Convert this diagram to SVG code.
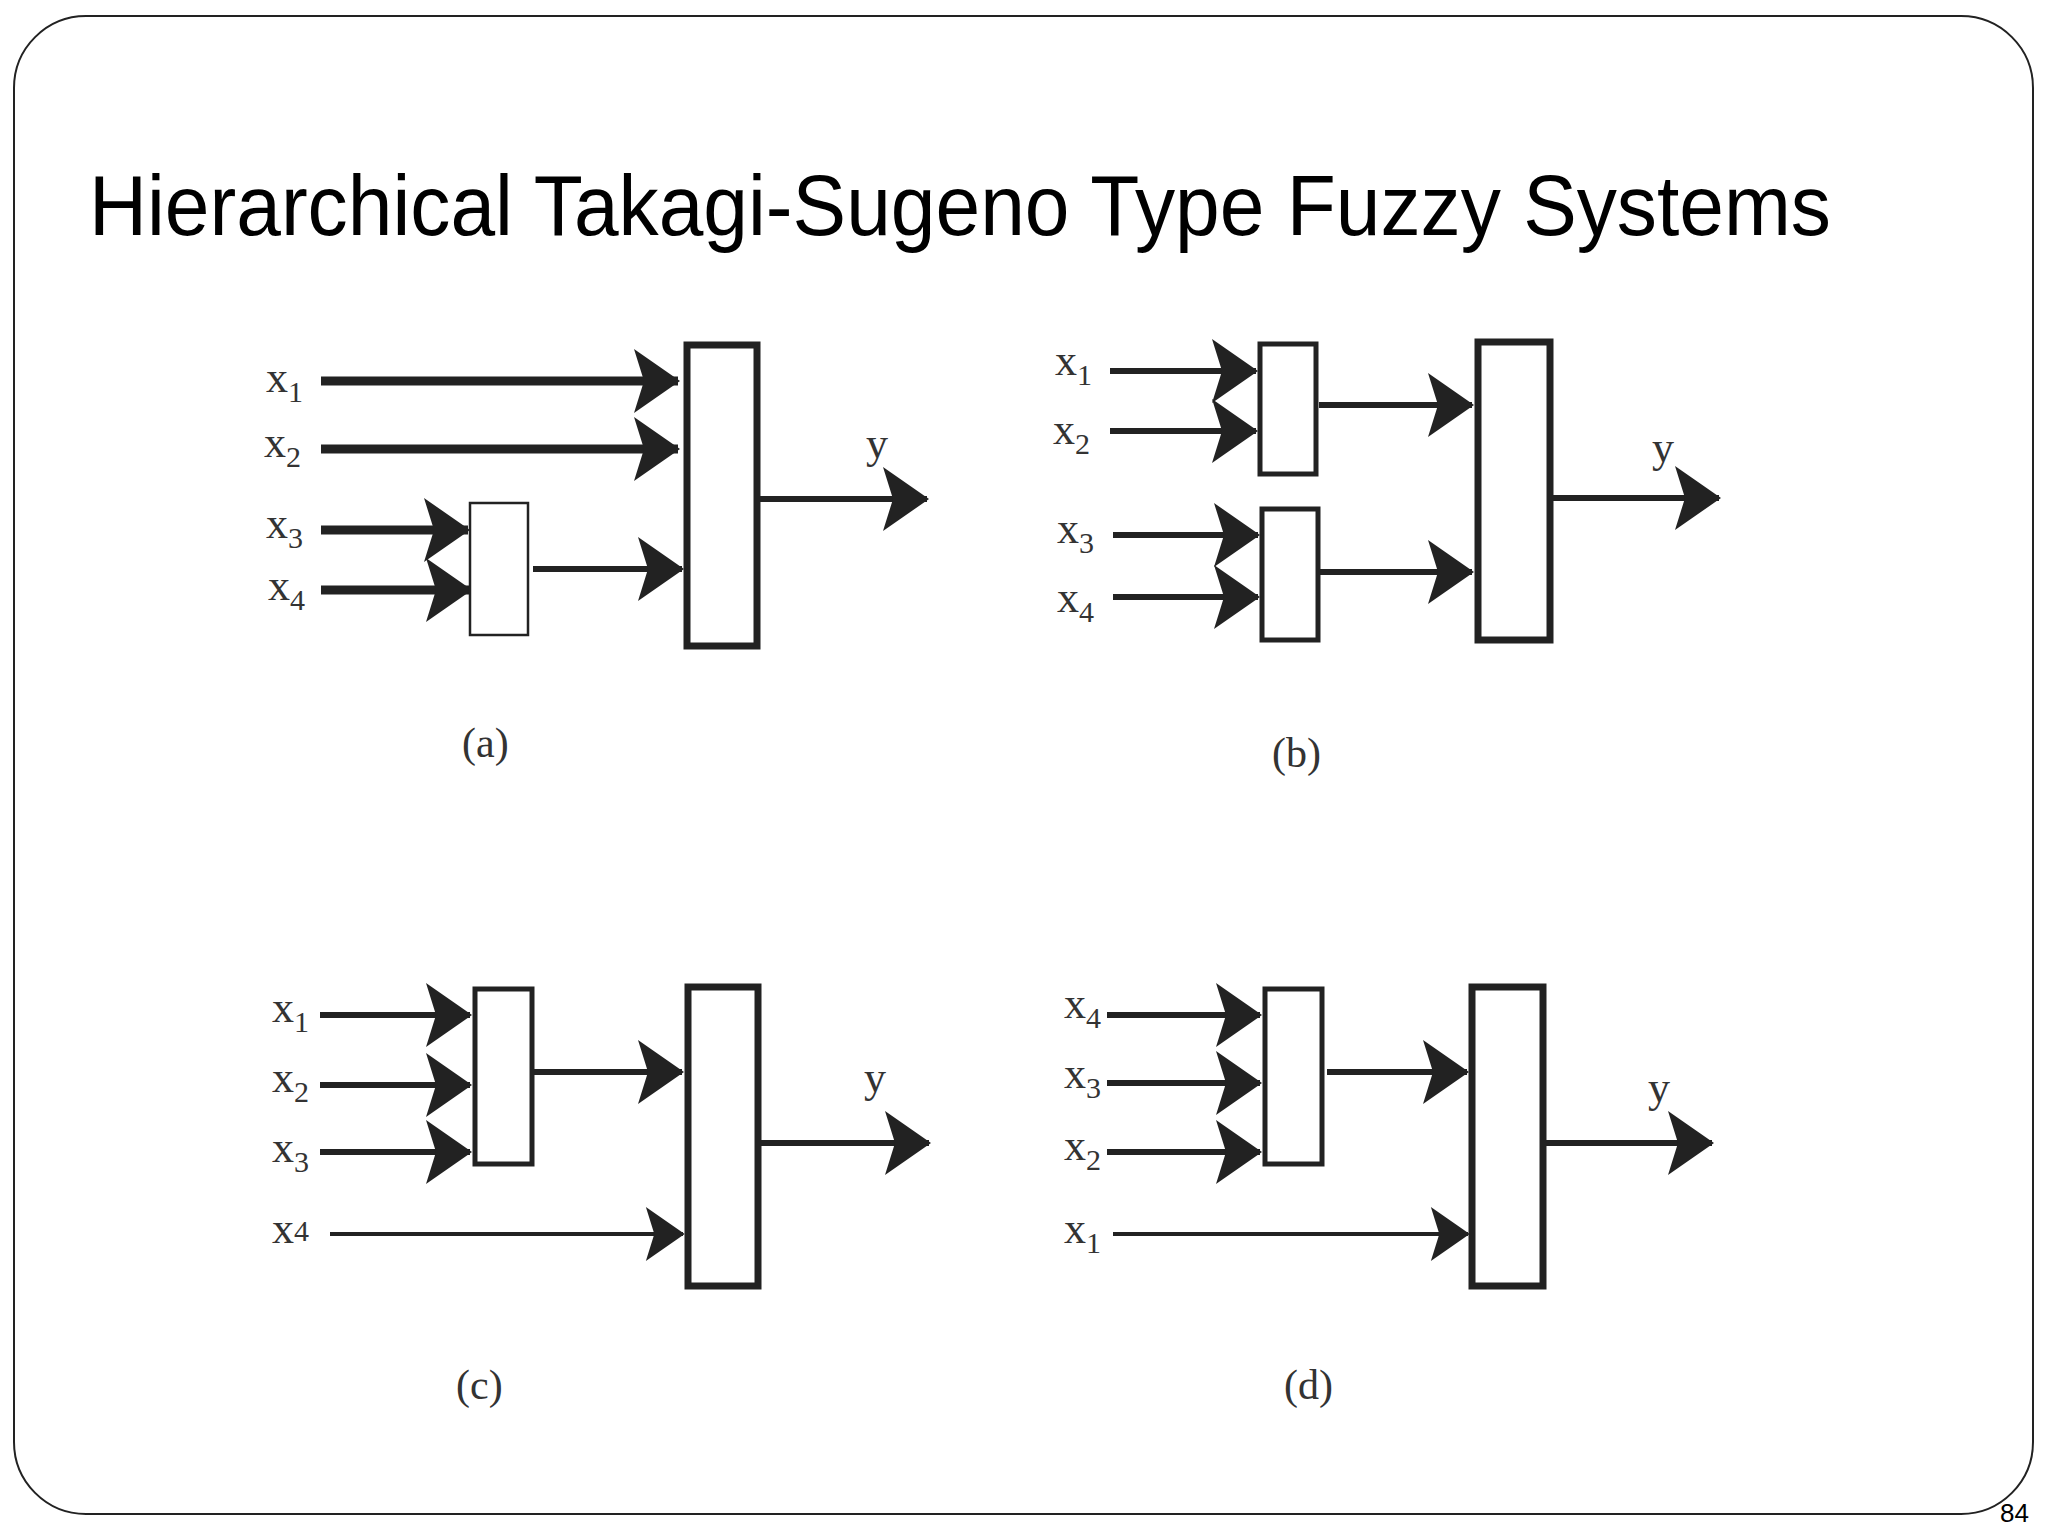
<svg xmlns="http://www.w3.org/2000/svg" width="2048" height="1536" viewBox="0 0 2048 1536">
<defs>
<style>
.lbl{font-family:"Liberation Serif","Times New Roman",serif;font-size:44px;fill:#333}
.sub{font-size:30px}
.cap{font-family:"Liberation Serif","Times New Roman",serif;font-size:42px;fill:#333}
.thick{stroke:#222;stroke-width:9;fill:none}
.med{stroke:#222;stroke-width:6;fill:none}
.thin{stroke:#222;stroke-width:4;fill:none}
.big{stroke:#222;stroke-width:7;fill:#fff}
.sm{stroke:#222;stroke-width:2.5;fill:#fff}
.smb{stroke:#222;stroke-width:5;fill:#fff}
</style>
<marker id="ah" viewBox="0 0 46 64" refX="44" refY="32" markerWidth="46" markerHeight="64" markerUnits="userSpaceOnUse" orient="auto">
<path d="M0,0 L46,32 L0,64 L10,32 Z" fill="#222"/>
</marker>
<marker id="ahs" viewBox="0 0 46 64" refX="44" refY="32" markerWidth="40" markerHeight="54" markerUnits="userSpaceOnUse" orient="auto">
<path d="M0,0 L46,32 L0,64 L10,32 Z" fill="#222"/>
</marker>
</defs>
<rect x="14" y="16" width="2019" height="1498" rx="72" ry="72" fill="#fff" stroke="#222" stroke-width="2"/>
<text x="89" y="235" font-family="Liberation Sans,Arial,sans-serif" font-size="86" fill="#000" textLength="1742" lengthAdjust="spacingAndGlyphs">Hierarchical Takagi-Sugeno Type Fuzzy Systems</text>
<text x="2000" y="1522" font-family="Liberation Sans,Arial,sans-serif" font-size="26" fill="#000">84</text>

<g id="connectors">
<!-- a -->
<line class="thick" x1="321" y1="381" x2="678" y2="381" marker-end="url(#ah)"/>
<line class="thick" x1="321" y1="449" x2="678" y2="449" marker-end="url(#ah)"/>
<line class="thick" x1="321" y1="530" x2="468" y2="530" marker-end="url(#ah)"/>
<line class="thick" x1="321" y1="590" x2="470" y2="590" marker-end="url(#ah)"/>
<line class="med" x1="533" y1="569" x2="682" y2="569" marker-end="url(#ah)"/>
<line class="med" x1="757" y1="499" x2="927" y2="499" marker-end="url(#ah)"/>
<!-- b -->
<line class="med" x1="1110" y1="371" x2="1256" y2="371" marker-end="url(#ah)"/>
<line class="med" x1="1110" y1="431" x2="1256" y2="431" marker-end="url(#ah)"/>
<line class="med" x1="1113" y1="535" x2="1258" y2="535" marker-end="url(#ah)"/>
<line class="med" x1="1113" y1="597" x2="1258" y2="597" marker-end="url(#ah)"/>
<line class="med" x1="1319" y1="405" x2="1472" y2="405" marker-end="url(#ah)"/>
<line class="med" x1="1320" y1="572" x2="1472" y2="572" marker-end="url(#ah)"/>
<line class="med" x1="1552" y1="498" x2="1719" y2="498" marker-end="url(#ah)"/>
<!-- c -->
<line class="med" x1="320" y1="1015" x2="470" y2="1015" marker-end="url(#ah)"/>
<line class="med" x1="320" y1="1085" x2="470" y2="1085" marker-end="url(#ah)"/>
<line class="med" x1="320" y1="1152" x2="470" y2="1152" marker-end="url(#ah)"/>
<line class="med" x1="534" y1="1072" x2="682" y2="1072" marker-end="url(#ah)"/>
<line class="thin" x1="330" y1="1234" x2="683" y2="1234" marker-end="url(#ahs)"/>
<line class="med" x1="760" y1="1143" x2="929" y2="1143" marker-end="url(#ah)"/>
<!-- d -->
<line class="med" x1="1107" y1="1015" x2="1260" y2="1015" marker-end="url(#ah)"/>
<line class="med" x1="1107" y1="1083" x2="1260" y2="1083" marker-end="url(#ah)"/>
<line class="med" x1="1107" y1="1152" x2="1260" y2="1152" marker-end="url(#ah)"/>
<line class="med" x1="1327" y1="1072" x2="1467" y2="1072" marker-end="url(#ah)"/>
<line class="thin" x1="1113" y1="1234" x2="1468" y2="1234" marker-end="url(#ahs)"/>
<line class="med" x1="1545" y1="1143" x2="1712" y2="1143" marker-end="url(#ah)"/>
</g>

<g id="panel-a">
<rect id="a-small" class="sm" x="470" y="503" width="58" height="132"/>
<rect id="a-big" class="big" x="687" y="345" width="70" height="301"/>
<text class="lbl" x="266" y="392">x<tspan class="sub" dy="10">1</tspan></text>
<text class="lbl" x="264" y="457">x<tspan class="sub" dy="10">2</tspan></text>
<text class="lbl" x="266" y="538">x<tspan class="sub" dy="10">3</tspan></text>
<text class="lbl" x="268" y="600">x<tspan class="sub" dy="10">4</tspan></text>
<text class="lbl" x="866" y="458">y</text>
<text class="cap" x="462" y="757">(a)</text>
</g>

<g id="panel-b">
<rect id="b-small1" class="smb" x="1260" y="344" width="56" height="130"/>
<rect id="b-small2" class="smb" x="1262" y="509" width="56" height="131"/>
<rect id="b-big" class="big" x="1478" y="342" width="72" height="298"/>
<text class="lbl" x="1055" y="375">x<tspan class="sub" dy="10">1</tspan></text>
<text class="lbl" x="1053" y="444">x<tspan class="sub" dy="10">2</tspan></text>
<text class="lbl" x="1057" y="543">x<tspan class="sub" dy="10">3</tspan></text>
<text class="lbl" x="1057" y="612">x<tspan class="sub" dy="10">4</tspan></text>
<text class="lbl" x="1652" y="462">y</text>
<text class="cap" x="1272" y="767">(b)</text>
</g>

<g id="panel-c">
<rect id="c-small" class="smb" x="475" y="989" width="57" height="175"/>
<rect id="c-big" class="big" x="688" y="987" width="70" height="299"/>
<text class="lbl" x="272" y="1022">x<tspan class="sub" dy="10">1</tspan></text>
<text class="lbl" x="272" y="1092">x<tspan class="sub" dy="10">2</tspan></text>
<text class="lbl" x="272" y="1162">x<tspan class="sub" dy="10">3</tspan></text>
<text class="lbl" x="272" y="1243">x<tspan class="sub" dy="-2">4</tspan></text>
<text class="lbl" x="864" y="1092">y</text>
<text class="cap" x="456" y="1399">(c)</text>
</g>

<g id="panel-d">
<rect id="d-small" class="smb" x="1265" y="989" width="57" height="175"/>
<rect id="d-big" class="big" x="1472" y="987" width="71" height="299"/>
<text class="lbl" x="1064" y="1018">x<tspan class="sub" dy="10">4</tspan></text>
<text class="lbl" x="1064" y="1088">x<tspan class="sub" dy="10">3</tspan></text>
<text class="lbl" x="1064" y="1160">x<tspan class="sub" dy="10">2</tspan></text>
<text class="lbl" x="1064" y="1243">x<tspan class="sub" dy="10">1</tspan></text>
<text class="lbl" x="1648" y="1102">y</text>
<text class="cap" x="1284" y="1399">(d)</text>
</g>
</svg>
